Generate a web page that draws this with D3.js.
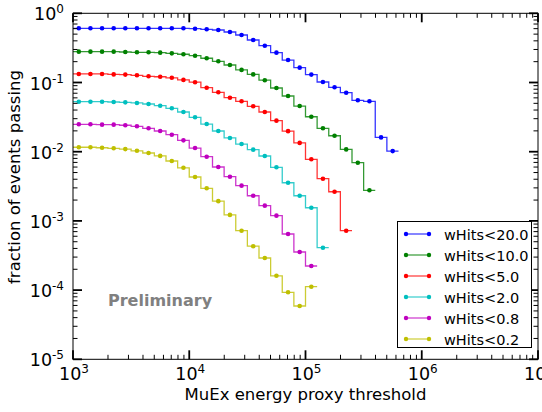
<!DOCTYPE html>
<html>
<head>
<meta charset="utf-8">
<script src="https://cdn.jsdelivr.net/npm/d3@7"></script>
<style>
  body { margin: 0; background: #fff; }
  svg { display: block; font-family: "DejaVu Sans", sans-serif; }
</style>
</head>
<body>
<svg id="chart" width="542" height="412"></svg>
<script>
// fraction of events passing vs energy threshold, one series per wHits cut
const labels = ["wHits<20.0", "wHits<10.0", "wHits<5.0", "wHits<2.0", "wHits<0.8", "wHits<0.2"];
const colors = ["#0000ff", "#008000", "#ff0000", "#00bfbf", "#bf00bf", "#bfbf00"];

// bins are 0.1 decade wide, starting at 1e3
const firstEdge = 1e3;
const binDex = 0.1;

const wHits20 = [0.607, 0.607, 0.607, 0.607, 0.607, 0.607, 0.607, 0.607, 0.607, 0.607,
    0.599, 0.587, 0.574, 0.537, 0.486, 0.411, 0.340, 0.270, 0.211, 0.164,
    0.130, 0.1017, 0.0852, 0.0712, 0.0553, 0.0535, 0.0161, 0.0102];
const wHits10 = [0.279, 0.279, 0.279, 0.279, 0.276, 0.273, 0.273, 0.270, 0.264, 0.256,
    0.244, 0.224, 0.2025, 0.179, 0.152, 0.131, 0.108, 0.0833, 0.0638, 0.0457,
    0.0320, 0.0218, 0.0170, 0.0108, 0.00693, 0.00277];
const wHits5 = [0.133, 0.133, 0.133, 0.131, 0.130, 0.127, 0.123, 0.121, 0.117, 0.109,
    0.101, 0.0841, 0.0722, 0.0603, 0.0535, 0.0453, 0.0375, 0.0281, 0.0198, 0.0134,
    0.00777, 0.00407, 0.00264, 0.000722];
const wHits2 = [0.0528, 0.0528, 0.0528, 0.0523, 0.0517, 0.0506, 0.0489, 0.0462, 0.0424, 0.0375,
    0.0314, 0.0251, 0.0199, 0.0158, 0.0129, 0.0107, 0.00867, 0.00595, 0.00356, 0.00231,
    0.00155, 0.000410];
const wHits08 = [0.0249, 0.0249, 0.0246, 0.0246, 0.0241, 0.0233, 0.0218, 0.0199, 0.0176, 0.0146,
    0.0113, 0.00847, 0.00601, 0.00435, 0.00323, 0.00231, 0.00166, 0.00119, 0.000647, 0.000355,
    0.000223];
const wHits02 = [0.0116, 0.0116, 0.0114, 0.0112, 0.0109, 0.0103, 0.00958, 0.00870, 0.00734, 0.00585,
    0.00431, 0.00296, 0.00193, 0.00122, 0.000722, 0.000431, 0.000291, 0.000161, 0.0000929, 0.0000589,
    0.000112];

const seriesValues = [wHits20, wHits10, wHits5, wHits2, wHits08, wHits02];

const xTicks = [1e3, 1e4, 1e5, 1e6, 1e7];
const yTicks = [1e-5, 1e-4, 1e-3, 1e-2, 1e-1, 1];

const svg = d3.select("#chart");
const pLeft = 73, pRight = 538, pTop = 13.3, pBottom = 359.3;

const x = d3.scaleLog().domain([1e3, 1e7]).range([pLeft, pRight]);
const y = d3.scaleLog().domain([1e-5, 1]).range([pBottom, pTop]);

const edge = k => firstEdge * Math.pow(10, binDex * k);
const center = k => firstEdge * Math.pow(10, binDex * (k + 0.5));

svg.append("defs").append("clipPath").attr("id", "plotClip")
    .append("rect").attr("x", pLeft).attr("y", pTop)
    .attr("width", pRight - pLeft).attr("height", pBottom - pTop);

const plot = svg.append("g").attr("clip-path", "url(#plotClip)");

const stepLine = d3.line().x(d => x(d[0])).y(d => y(d[1])).curve(d3.curveStepAfter);

seriesValues.forEach((vals, i) => {
    let pts = vals.map((v, k) => [edge(k), v]);
    pts.push([edge(vals.length), vals[vals.length - 1]]);
    plot.append("path")
        .attr("d", stepLine(pts))
        .attr("fill", "none")
        .attr("stroke", colors[i])
        .attr("stroke-width", 1.3)
        .attr("stroke-opacity", 0.8);
    plot.append("g").selectAll("circle")
        .data(vals)
        .join("circle")
        .attr("cx", (d, k) => x(center(k)))
        .attr("cy", d => y(d))
        .attr("r", 2.3)
        .attr("fill", colors[i]);
});

// frame
svg.append("rect")
    .attr("x", pLeft).attr("y", pTop)
    .attr("width", pRight - pLeft).attr("height", pBottom - pTop)
    .attr("fill", "none").attr("stroke", "#000").attr("stroke-width", 1);

// ticks, all inside, on four sides
const ticks = svg.append("g").attr("stroke", "#000");
function minorsOf(majors) {
    let out = [];
    for (let i = 0; i < majors.length - 1; i++)
        for (let m = 2; m <= 9; m++) out.push(majors[i] * m);
    return out;
}
xTicks.forEach(t => {
    ticks.append("line").attr("x1", x(t)).attr("x2", x(t)).attr("y1", pBottom).attr("y2", pBottom - 9).attr("stroke-width", 1.8);
    ticks.append("line").attr("x1", x(t)).attr("x2", x(t)).attr("y1", pTop).attr("y2", pTop + 9).attr("stroke-width", 1.8);
});
minorsOf(xTicks).forEach(t => {
    ticks.append("line").attr("x1", x(t)).attr("x2", x(t)).attr("y1", pBottom).attr("y2", pBottom - 4.5).attr("stroke-width", 1);
    ticks.append("line").attr("x1", x(t)).attr("x2", x(t)).attr("y1", pTop).attr("y2", pTop + 4.5).attr("stroke-width", 1);
});
yTicks.forEach(t => {
    ticks.append("line").attr("y1", y(t)).attr("y2", y(t)).attr("x1", pLeft).attr("x2", pLeft + 9).attr("stroke-width", 1.8);
    ticks.append("line").attr("y1", y(t)).attr("y2", y(t)).attr("x1", pRight).attr("x2", pRight - 9).attr("stroke-width", 1.8);
});
minorsOf(yTicks).forEach(t => {
    ticks.append("line").attr("y1", y(t)).attr("y2", y(t)).attr("x1", pLeft).attr("x2", pLeft + 4.5).attr("stroke-width", 1);
    ticks.append("line").attr("y1", y(t)).attr("y2", y(t)).attr("x1", pRight).attr("x2", pRight - 4.5).attr("stroke-width", 1);
});

// tick labels as 10^n
function powLabel(g, px, py, anchor, exp) {
    const t = g.append("text").attr("x", px).attr("y", py).attr("text-anchor", anchor)
        .attr("fill", "#000");
    t.append("tspan").attr("font-size", 17.5).text("10");
    t.append("tspan").attr("font-size", 12).attr("dy", -7).text(exp);
}
const lab = svg.append("g");
xTicks.forEach(t => powLabel(lab, x(t) + 1, pBottom + 21, "middle", String(Math.round(Math.log10(t)))));
yTicks.forEach(t => powLabel(lab, pLeft - 9, y(t) + 7, "end", String(Math.round(Math.log10(t)))));

// axis titles
svg.append("text")
    .attr("x", (pLeft + pRight) / 2).attr("y", 400)
    .attr("text-anchor", "middle").attr("font-size", 16.5)
    .text("MuEx energy proxy threshold");
svg.append("text")
    .attr("transform", "translate(20,177) rotate(-90)")
    .attr("text-anchor", "middle").attr("font-size", 16.5)
    .text("fraction of events passing");

svg.append("text")
    .attr("x", 108).attr("y", 306)
    .attr("font-size", 16).attr("font-weight", "bold").attr("fill", "#808080")
    .text("Preliminary");

// legend
const lg = svg.append("g");
lg.append("rect").attr("x", 397.5).attr("y", 221.5).attr("width", 134).attr("height", 126)
    .attr("fill", "#fff").attr("stroke", "#000").attr("stroke-width", 1);
labels.forEach((name, i) => {
    const ly = 234 + i * 21;
    lg.append("line").attr("x1", 406).attr("x2", 429).attr("y1", ly).attr("y2", ly)
        .attr("stroke", colors[i]).attr("stroke-width", 1.6).attr("stroke-opacity", 0.6);
    [406, 429].forEach(cx => lg.append("circle").attr("cx", cx).attr("cy", ly).attr("r", 2.2).attr("fill", colors[i]));
    lg.append("text").attr("x", 444).attr("y", ly + 5.5).attr("font-size", 14.5).text(name);
});
</script>
</body>
</html>
